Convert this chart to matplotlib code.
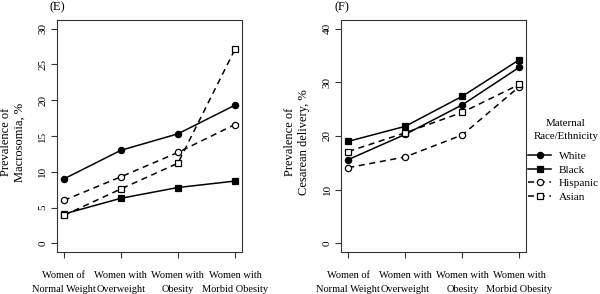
import matplotlib
matplotlib.use('Agg')
import matplotlib.pyplot as plt

# categories (x axis)
categories = ["Women of\nNormal Weight", "Women with\nOverweight",
              "Women with\nObesity", "Women with\nMorbid Obesity"]
groups = ["White", "Black", "Hispanic", "Asian"]

# (E) prevalence of macrosomia, %
macro_white = [9.0, 13.0, 15.3, 19.3]
macro_black = [4.1, 6.3, 7.8, 8.7]
macro_hispanic = [6.0, 9.3, 12.7, 16.6]
macro_asian = [3.9, 7.6, 11.2, 27.1]

# (F) prevalence of cesarean delivery, %
ces_white = [15.6, 20.3, 25.8, 32.8]
ces_black = [19.0, 21.8, 27.4, 34.2]
ces_hispanic = [14.1, 16.1, 20.2, 29.2]
ces_asian = [17.1, 20.6, 24.4, 29.6]

plt.rcParams['font.family'] = ['Liberation Serif', 'DejaVu Serif']
plt.rcParams['font.size'] = 7.5

styles = [
    dict(linestyle='-', marker='o', mfc='black'),
    dict(linestyle='-', marker='s', mfc='black'),
    dict(linestyle=(0, (4, 3)), marker='o', mfc='white'),
    dict(linestyle=(0, (4, 3)), marker='s', mfc='white'),
]

fig = plt.figure(figsize=(6.0, 2.94), dpi=100)
ax1 = fig.add_axes([0.095, 0.143, 0.308, 0.789])
ax2 = fig.add_axes([0.569, 0.143, 0.308, 0.789])

x = list(range(1, len(categories) + 1))


def draw(ax, series, ymax, ystep, ylabel, tag):
    handles = []
    for vals, st, name in zip(series, styles, groups):
        h, = ax.plot(x, vals, color='black', linewidth=1.1, markersize=4.5,
                     markeredgewidth=0.9, mec='black', label=name, **st)
        handles.append(h)
    ext = 0.04 * ymax
    ax.set_ylim(-ext, ymax + ext)
    ax.set_xlim(0.88, 4.12)
    ax.set_yticks(range(0, ymax + 1, ystep))
    ax.set_xticks(x)
    ax.set_xticklabels(categories, linespacing=1.7)
    for lbl in ax.get_yticklabels():
        lbl.set_rotation(90)
        lbl.set_va('center')
        lbl.set_fontsize(8)
    ax.tick_params(axis='both', direction='out', length=4, width=0.8, color='#333333')
    ax.tick_params(axis='x', pad=10)
    ax.tick_params(axis='y', pad=3)
    for sp in ax.spines.values():
        sp.set_linewidth(0.8)
        sp.set_color('#333333')
    ax.set_ylabel(ylabel, fontsize=9, linespacing=1.25)
    ax.yaxis.set_label_coords(-0.168, 0.474)
    ax.text(-0.04, 1.056, tag, transform=ax.transAxes, fontsize=9,
            ha='left', va='center')
    return handles


draw(ax1, [macro_white, macro_black, macro_hispanic, macro_asian], 30, 5,
     "Prevalence of\nMacrosomia, %", "(E)")
handles = draw(ax2, [ces_white, ces_black, ces_hispanic, ces_asian], 40, 10,
               "Prevalence of\nCesarean delivery, %", "(F)")

# legend title drawn separately so it can be centred above the entries
fig.text(566 / 600, 1 - 130 / 294, "Maternal\nRace/Ethnicity", fontsize=7.8,
         ha='center', va='center', multialignment='center', linespacing=1.7)
leg = fig.legend(handles=handles, loc='upper left',
                 bbox_to_anchor=(527 / 600, 1 - 150 / 294),
                 bbox_transform=fig.transFigure, frameon=False,
                 fontsize=8.2, handlelength=2.0, handletextpad=0.7,
                 labelspacing=0.32, borderaxespad=0.0, borderpad=0.1)

fig.savefig("out.png", dpi=100)
